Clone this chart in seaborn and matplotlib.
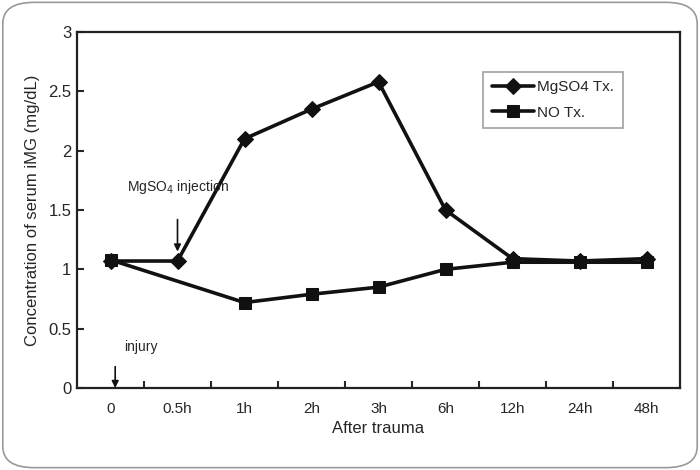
import numpy as np
import pandas as pd
import matplotlib
matplotlib.use('Agg')
import matplotlib.pyplot as plt
import seaborn as sns
from matplotlib.patches import FancyBboxPatch
from matplotlib.ticker import FixedLocator

# data
time_labels = ['0', '0.5h', '1h', '2h', '3h', '6h', '12h', '24h', '48h']
mgso4_tx = [1.07, 1.07, 2.10, 2.35, 2.58, 1.50, 1.09, 1.07, 1.09]
no_tx = [1.08, np.nan, 0.72, 0.79, 0.85, 1.00, 1.06, 1.06, 1.06]
series_names = ['MgSO4 Tx.', 'NO Tx.']

df = pd.DataFrame({
    'pos': list(range(len(time_labels))) * 2,
    'value': mgso4_tx + no_tx,
    'group': [series_names[0]] * len(time_labels) + [series_names[1]] * len(time_labels),
}).dropna()

sns.set_style('white')
plt.rcParams['font.family'] = ['Liberation Sans Narrow', 'Liberation Sans', 'DejaVu Sans']

fig = plt.figure(figsize=(7, 4.7), dpi=100)
ax = fig.add_axes([77 / 700, 1 - 388 / 470, 603 / 700, 356 / 470])

# rounded frame around the whole figure
frame = FancyBboxPatch((0.004, 0.005), 0.992, 0.99, boxstyle='round,pad=0,rounding_size=0.045',
                       transform=fig.transFigure, facecolor='none', edgecolor='#999999', linewidth=1.2)
fig.patches.append(frame)

sns.lineplot(data=df, x='pos', y='value', hue='group', style='group',
             markers={'MgSO4 Tx.': 'D', 'NO Tx.': 's'}, dashes=False,
             palette=['#111111', '#111111'], linewidth=2.6, markersize=8,
             markeredgecolor='#111111', ax=ax)

n = len(time_labels)
ax.set_xlim(-0.5, n - 0.5)
ax.set_ylim(0, 3)
ax.set_xticks(range(n))
ax.set_xticklabels(time_labels)
ax.xaxis.set_minor_locator(FixedLocator([i + 0.5 for i in range(n - 1)]))
ax.tick_params(axis='x', which='major', length=0, labelsize=11, pad=10)
ax.tick_params(axis='x', which='minor', direction='in', length=5, width=1.5, bottom=True)
ax.set_yticks([0, 0.5, 1, 1.5, 2, 2.5, 3])
ax.set_yticklabels(['0', '0.5', '1', '1.5', '2', '2.5', '3'])
ax.tick_params(axis='y', direction='in', length=5, width=1.5, left=True, labelsize=12, pad=4)

for s in ax.spines.values():
    s.set_color('#222222')
    s.set_linewidth(1.6)

ax.set_xlabel('After trauma', fontsize=12, labelpad=4)
ax.set_ylabel('Concentration of serum iMG (mg/dL)', fontsize=12, labelpad=6)

# annotations
ax.annotate('', xy=(1, 1.15), xytext=(1, 1.42),
            arrowprops=dict(arrowstyle='-|>', color='#111111', lw=1.2, mutation_scale=10,
                            shrinkA=0, shrinkB=0))
ax.text(1, 1.62, 'MgSO$_4$ injection', ha='center', va='bottom', fontsize=10)
ax.annotate('', xy=(0.07, 0.0), xytext=(0.07, 0.18),
            arrowprops=dict(arrowstyle='-|>', color='#111111', lw=1.2, mutation_scale=10,
                            shrinkA=0, shrinkB=0))
ax.text(0.2, 0.29, 'injury', ha='left', va='bottom', fontsize=10)

leg = ax.legend(loc='upper right', bbox_to_anchor=(0.905, 0.888), frameon=True, fancybox=False,
                fontsize=11, handlelength=2.8, borderpad=0.55, labelspacing=0.75,
                handletextpad=0.2, borderaxespad=0)
leg.get_frame().set_edgecolor('#888888')
leg.get_frame().set_linewidth(1.2)

fig.savefig('out.png', dpi=100)
